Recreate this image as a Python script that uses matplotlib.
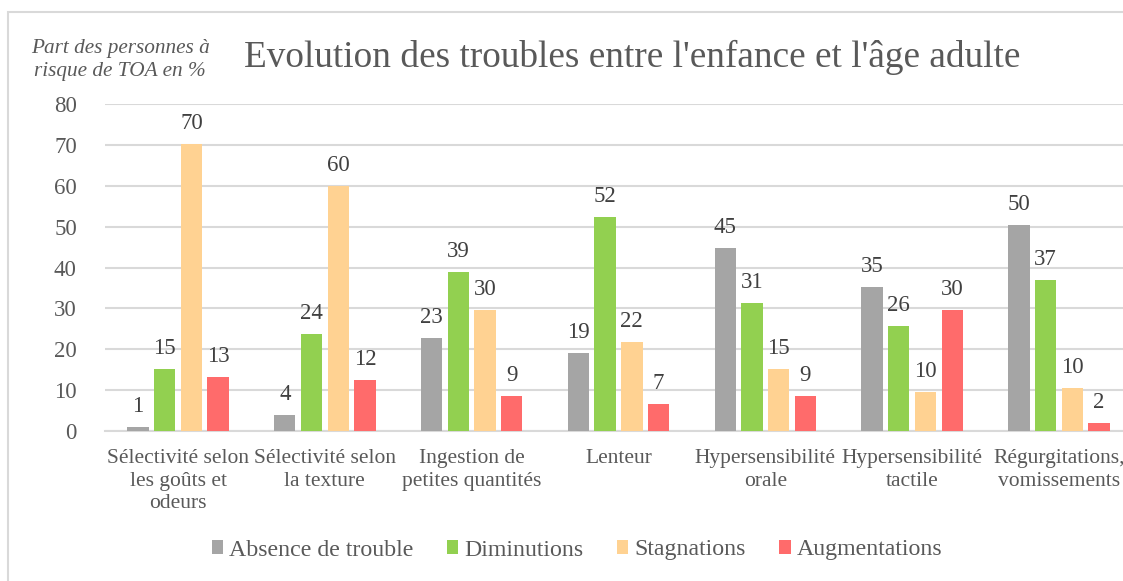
import matplotlib
matplotlib.use("Agg")
import matplotlib.pyplot as plt
from matplotlib.patches import Rectangle, Patch
from matplotlib.font_manager import FontProperties
import numpy as np

categories = ["Sélectivité selon\nles goûts et\nodeurs", "Sélectivité selon\nla texture",
              "Ingestion de\npetites quantités", "Lenteur", "Hypersensibilité\norale",
              "Hypersensibilité\ntactile", "Régurgitations,\nvomissements"]
absence = [1.0, 3.9, 22.8, 19.1, 44.8, 35.2, 50.4]
diminutions = [15.2, 23.8, 38.9, 52.3, 31.3, 25.7, 36.9]
stagnations = [70.3, 60.0, 29.6, 21.8, 15.2, 9.5, 10.5]
augmentations = [13.3, 12.5, 8.6, 6.6, 8.6, 29.7, 2.0]
series_names = ["Absence de trouble", "Diminutions", "Stagnations", "Augmentations"]
colors = ["#A5A5A5", "#92D050", "#FFD292", "#FF6B6B"]
yticks = [0, 10, 20, 30, 40, 50, 60, 70, 80]

plt.rcParams['font.family'] = ['Liberation Serif', 'DejaVu Serif']

W, H = 1123, 581
fig = plt.figure(figsize=(W / 100, H / 100), dpi=100)
fig.patches.append(Rectangle((8 / W, -0.1), 2, (1 - 12 / H) + 0.1, transform=fig.transFigure,
                             fill=False, edgecolor="#D9D9D9", lw=1.5))

ax = fig.add_axes([104.6 / W, 1 - 431 / H, (1132.4 - 104.6) / W, (431 - 104) / H])
x = np.arange(len(categories))
pitch = 0.182
width = 0.145
all_series = [absence, diminutions, stagnations, augmentations]
for i, (vals, name, c) in enumerate(zip(all_series, series_names, colors)):
    pos = x + (i - 1.5) * pitch
    ax.bar(pos, vals, width, color=c, label=name, zorder=3)
    for p, v in zip(pos, vals):
        ax.text(p, v + 2.4, f"{round(v):d}", ha="center", va="bottom",
                fontsize=16.5, color="#404040")

ax.set_xlim(-0.5, len(categories) - 0.5)
ax.set_ylim(0, 80)
ax.set_yticks(yticks)
ax.set_yticklabels([str(t) for t in yticks], fontsize=16.5, color="#595959")
ax.set_xticks(x)
ax.set_xticklabels(categories, fontsize=15.5, color="#595959", linespacing=1.25)
ax.tick_params(axis="both", length=0)
ax.tick_params(axis="y", pad=20)
ax.tick_params(axis="x", pad=13)
ax.yaxis.grid(True, color="#D9D9D9", lw=1.5, zorder=0)
for s in ["top", "right", "left"]:
    ax.spines[s].set_visible(False)
ax.spines["bottom"].set_color("#D9D9D9")
ax.spines["bottom"].set_linewidth(1.5)

fig.text(632 / W, 1 - 57 / H, "Evolution des troubles entre l'enfance et l'âge adulte",
         ha="center", va="center", fontsize=26.8, color="#595959")
fig.text(120 / W, 1 - 60 / H, "Part des personnes à\nrisque de TOA en %",
         ha="center", va="center", fontsize=15.3, color="#595959", style="italic",
         linespacing=1.3)

handles = [Patch(facecolor=c, label=n) for c, n in zip(colors, series_names)]
fig.legend(handles=handles, loc="center", bbox_to_anchor=(577 / W, 1 - 550 / H), ncol=4,
           frameon=False, prop=FontProperties(family="Liberation Serif", size=17.2),
           labelcolor="#595959", handlelength=0.48, handleheight=0.48,
           handletextpad=0.25, columnspacing=1.4)

fig.savefig("out.png", dpi=100)
